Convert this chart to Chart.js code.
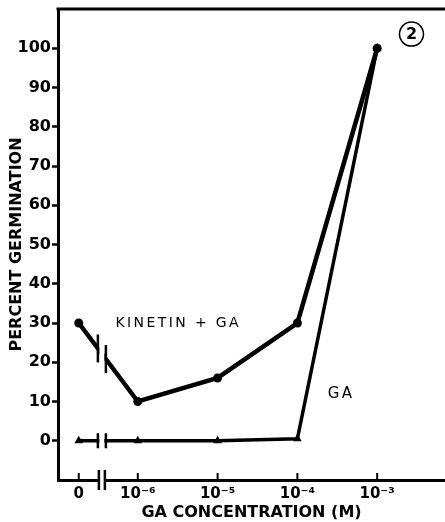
<!DOCTYPE html>
<html>
<head>
<meta charset="utf-8">
<script src="https://cdn.jsdelivr.net/npm/chart.js@4.4.1/dist/chart.umd.min.js"></script>
<style>
  html, body { margin: 0; padding: 0; background: #fff; }
  canvas { display: block; }
</style>
</head>
<body>
<canvas id="chart" width="445" height="522"></canvas>
<script>
// ── DATA ──────────────────────────────────────────────────────────
// x positions are log10(GA concentration); the "0" control sits left of the axis break
const xLabels    = ["0", "10⁻⁶", "10⁻⁵", "10⁻⁴", "10⁻³"];
const xPositions = [-6.74, -6, -5, -4, -3];
const kinetinGA  = [30, 10, 16, 30, 100];
const gaOnly     = [0, 0, 0, 0.5, 100];
const yTicks     = [0, 10, 20, 30, 40, 50, 60, 70, 80, 90, 100];
const breakAt    = -6.45;

const FONT = "'DejaVu Sans', sans-serif";

const toPoints = vals => xPositions.map((x, i) => ({ x, y: vals[i] }));

// ── DECORATIONS: axis break, frame, labels ────────────────────────
const decorations = {
  id: "decorations",
  afterDatasetsDraw(chart) {
    const { ctx, chartArea: a, scales: { x, y } } = chart;
    const bx = x.getPixelForValue(breakAt);

    ctx.save();
    // gap through lines and axis
    ctx.fillStyle = "#fff";
    ctx.fillRect(bx - 2.5, a.top + 4, 5, a.bottom - a.top + 2);

    ctx.strokeStyle = "#000";
    ctx.lineWidth = 2.5;
    const bar = (px, cy, half) => {
      ctx.beginPath();
      ctx.moveTo(px, cy - half);
      ctx.lineTo(px, cy + half);
      ctx.stroke();
    };
    // kinetin line break marks, centred on the line
    const p0 = { x: x.getPixelForValue(xPositions[0]), y: y.getPixelForValue(kinetinGA[0]) };
    const p1 = { x: x.getPixelForValue(xPositions[1]), y: y.getPixelForValue(kinetinGA[1]) };
    const lineY = px => p0.y + (p1.y - p0.y) * (px - p0.x) / (p1.x - p0.x);
    [bx - 4, bx + 4].forEach(px => bar(px, lineY(px), 14));
    // GA line break marks
    [bx - 4, bx + 4].forEach(px => bar(px, y.getPixelForValue(gaOnly[0]), 7.5));
    // axis break marks
    [bx - 3, bx + 3].forEach(px => bar(px, a.bottom, 10));

    // top frame line
    ctx.lineWidth = 3;
    ctx.beginPath();
    ctx.moveTo(a.left - 1.5, a.top);
    ctx.lineTo(a.right, a.top);
    ctx.stroke();

    // x tick marks pointing into the plot
    ctx.lineWidth = 2;
    xPositions.forEach(v => {
      const px = x.getPixelForValue(v);
      ctx.beginPath();
      ctx.moveTo(px, a.bottom);
      ctx.lineTo(px, a.bottom - 7);
      ctx.stroke();
    });

    // series labels
    ctx.fillStyle = "#000";
    ctx.textBaseline = "middle";
    ctx.textAlign = "left";
    ctx.font = "14px " + FONT;
    ctx.letterSpacing = "2.4px";
    ctx.fillText("KINETIN + GA", x.getPixelForValue(-6.28), y.getPixelForValue(29.8));
    ctx.font = "15px " + FONT;
    ctx.letterSpacing = "2.5px";
    ctx.fillText("GA", x.getPixelForValue(-3.62), y.getPixelForValue(12));
    ctx.letterSpacing = "0px";

    // circled figure number
    const cx = x.getPixelForValue(-2.57), cy = y.getPixelForValue(103.6);
    ctx.lineWidth = 1.5;
    ctx.beginPath();
    ctx.arc(cx, cy, 12, 0, Math.PI * 2);
    ctx.stroke();
    ctx.textAlign = "center";
    ctx.font = "bold 16px " + FONT;
    ctx.fillText("2", cx, cy + 1);
    ctx.restore();
  }
};

// ── CHART ─────────────────────────────────────────────────────────
new Chart(document.getElementById("chart"), {
  type: "line",
  data: {
    datasets: [
      {
        label: "KINETIN + GA",
        data: toPoints(kinetinGA),
        borderColor: "#000",
        backgroundColor: "#000",
        borderWidth: 4.5,
        pointStyle: "circle",
        pointRadius: 4.5,
        pointBorderWidth: 0,
        tension: 0,
      },
      {
        label: "GA",
        data: toPoints(gaOnly),
        borderColor: "#000",
        backgroundColor: "#000",
        borderWidth: 3.5,
        pointStyle: "triangle",
        pointRadius: 5,
        pointBorderWidth: 0,
        tension: 0,
      }
    ]
  },
  options: {
    responsive: false,
    animation: false,
    layout: { autoPadding: false, padding: { top: 9, right: 0, left: 0, bottom: 0 } },
    plugins: { legend: { display: false }, tooltip: { enabled: false } },
    scales: {
      x: {
        type: "linear",
        min: -7,
        max: -2.15,
        afterBuildTicks: s => { s.ticks = xPositions.map(v => ({ value: v })); },
        afterFit: s => { s.height = 42; s.paddingLeft = 0; s.paddingRight = 0; },
        grid: { display: false, drawTicks: false },
        border: { display: true, color: "#000", width: 3 },
        ticks: {
          color: "#000",
          padding: 5,
          maxRotation: 0,
          autoSkip: false,
          font: { family: FONT, size: 15, weight: "bold" },
          callback: v => xLabels[xPositions.indexOf(v)] ?? ""
        },
        title: {
          display: true,
          text: "GA CONCENTRATION (M)",
          color: "#000",
          padding: { top: 0, bottom: 0 },
          font: { family: FONT, size: 16, weight: "bold" }
        }
      },
      y: {
        min: -10,
        max: 110,
        afterBuildTicks: s => { s.ticks = yTicks.map(v => ({ value: v })); },
        afterFit: s => { s.width = 58; s.paddingTop = 0; s.paddingBottom = 0; },
        grid: {
          drawOnChartArea: false,
          drawTicks: true,
          tickLength: 6,
          tickWidth: 2.5,
          color: "#000"
        },
        border: { display: true, color: "#000", width: 3 },
        ticks: {
          color: "#000",
          padding: 1,
          font: { family: FONT, size: 16, weight: "bold" }
        },
        title: {
          display: true,
          text: "PERCENT GERMINATION",
          color: "#000",
          padding: { top: 7, bottom: 0 },
          font: { family: FONT, size: 16, weight: "bold" }
        }
      }
    }
  },
  plugins: [decorations]
});
</script>
</body>
</html>
